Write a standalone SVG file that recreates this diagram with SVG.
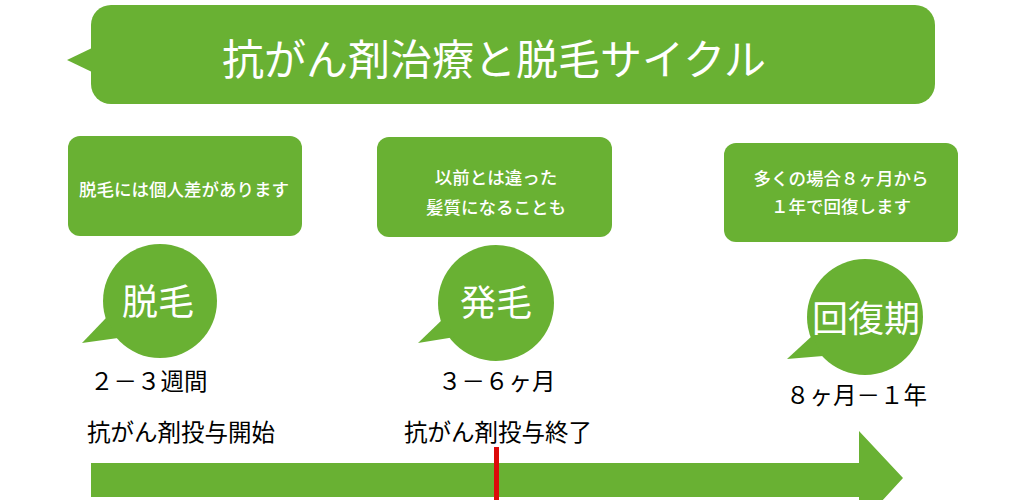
<svg xmlns="http://www.w3.org/2000/svg" width="1024" height="500" viewBox="0 0 1024 500">
<style>
.g{fill:#69b133}
.t{font-family:"Noto Sans CJK JP","Noto Sans",sans-serif;fill:#fff;text-anchor:middle}
.note{font-size:17.5px;font-weight:500}
.big{font-size:36px}
.lbl{font-family:"Noto Sans CJK JP","Noto Sans",sans-serif;fill:#000;font-size:23.5px}
</style>
<rect width="1024" height="500" fill="#fff"/>
<g id="title">
<rect class="g" x="91" y="5" width="844" height="99" rx="20"/>
<polygon class="g" points="92,48 67,60 92,72"/>
<text class="t" x="494" y="75" font-size="42">抗がん剤治療と脱毛サイクル</text>
</g>
<g id="note1">
<rect class="g" x="68" y="136" width="234" height="100" rx="12"/>
<text class="t note" x="184" y="196">脱毛には個人差があります</text>
</g>
<g id="note2">
<rect class="g" x="377" y="137" width="235" height="100" rx="12"/>
<text class="t note" x="496" y="184">以前とは違った</text>
<text class="t note" x="496" y="214">髪質になることも</text>
</g>
<g id="note3">
<rect class="g" x="724" y="143" width="234" height="99" rx="12"/>
<text class="t note" x="841" y="185">多くの場合８ヶ月から</text>
<text class="t note" x="841" y="213">１年で回復します</text>
</g>
<g id="bubble1">
<circle class="g" cx="160" cy="301" r="57"/>
<polygon class="g" points="106,318 82,343 118,338"/>
<text class="t big" x="158" y="315">脱毛</text>
</g>
<g id="bubble2">
<circle class="g" cx="496" cy="303" r="58"/>
<polygon class="g" points="444,318 418,343 455,337"/>
<text class="t big" x="496" y="316">発毛</text>
</g>
<g id="bubble3">
<circle class="g" cx="865" cy="317" r="58"/>
<polygon class="g" points="812,336 787,359 823,356"/>
<text class="t big" x="866" y="332">回復期</text>
</g>
<g id="labels">
<text class="lbl" x="90" y="390">２－３週間</text>
<text class="lbl" x="87" y="441">抗がん剤投与開始</text>
<text class="lbl" x="438" y="390">３－６ヶ月</text>
<text class="lbl" x="404" y="441">抗がん剤投与終了</text>
<text class="lbl" x="786" y="404">８ヶ月－１年</text>
</g>
<g id="connectors">
<polygon class="g" points="91,463 859,463 859,431 903,478 859,526 859,497 91,497"/>
<rect x="494" y="447" width="5" height="53" fill="#dd0a0a"/>
</g>
</svg>
